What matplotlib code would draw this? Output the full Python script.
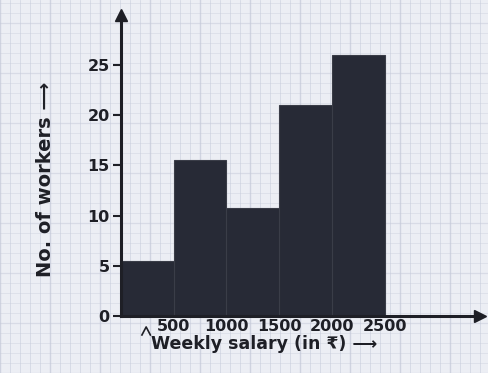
import matplotlib.pyplot as plt
import numpy as np

# weekly salary class edges (in rupees) and number of workers per class
bin_edges = [0, 500, 1000, 1500, 2000, 2500]
workers = [5.5, 15.5, 10.8, 21, 26]
y_ticks = [0, 5, 10, 15, 20, 25]
x_ticks = [500, 1000, 1500, 2000, 2500]

bar_color = '#272a36'
ink = '#1e1f26'

fig = plt.figure(figsize=(4.89, 3.73), dpi=100)
fig.patch.set_facecolor('#eceef4')

# graph paper behind everything
bg = fig.add_axes([0, 0, 1, 1], zorder=0)
bg.set_xlim(0, 489)
bg.set_ylim(0, 373)
bg.set_facecolor('#eceef4')
for v in np.arange(0, 489, 10):
    bg.axvline(v, color='#bcc2d4', lw=0.5 if v % 50 else 1.0, alpha=0.6)
for h in np.arange(0, 373, 10):
    bg.axhline(h, color='#c6cad9', lw=0.5 if h % 50 else 0.9, alpha=0.5)
bg.axis('off')

ax = fig.add_axes([0.247, 0.153, 0.735, 0.807], zorder=1)
ax.patch.set_alpha(0)
widths = np.diff(bin_edges)
ax.bar(bin_edges[:-1], workers, width=widths, align='edge',
       color=bar_color, edgecolor='#3a3d48', linewidth=0.8)

ax.set_xlim(0, 3400)
ax.set_ylim(0, 30)
for s in ['top', 'right']:
    ax.spines[s].set_visible(False)
for s in ['left', 'bottom']:
    ax.spines[s].set_color(ink)
    ax.spines[s].set_linewidth(2.2)

# arrow heads on axes
ax.plot(1, 0, '>', color=ink, markersize=8, transform=ax.transAxes, clip_on=False)
ax.plot(0, 1, '^', color=ink, markersize=8, transform=ax.transAxes, clip_on=False)

ax.set_yticks(y_ticks)
ax.set_yticklabels([str(t) for t in y_ticks], fontsize=11.5, fontweight='bold', color=ink)
ax.set_xticks(x_ticks)
ax.set_xticklabels([str(t) for t in x_ticks], fontsize=11.5, fontweight='bold', color=ink)
ax.tick_params(axis='y', length=6, width=1.5, color=ink, pad=2)
ax.tick_params(axis='x', length=0, pad=2)

# kink on the x-axis before 500
ax.plot([200, 240, 280], [-1.9, -1.1, -1.9], color=ink, lw=1.2, clip_on=False)

ax.set_xlabel('Weekly salary (in \u20b9) \u27f6', fontsize=12.5, fontweight='bold',
              color=ink, labelpad=1, x=0.40)
fig.text(0.093, 0.52, 'No. of workers \u27f6', rotation=90, fontsize=14,
         fontweight='bold', color=ink, ha='center', va='center')

fig.savefig('out.png', dpi=100, facecolor=fig.get_facecolor())
